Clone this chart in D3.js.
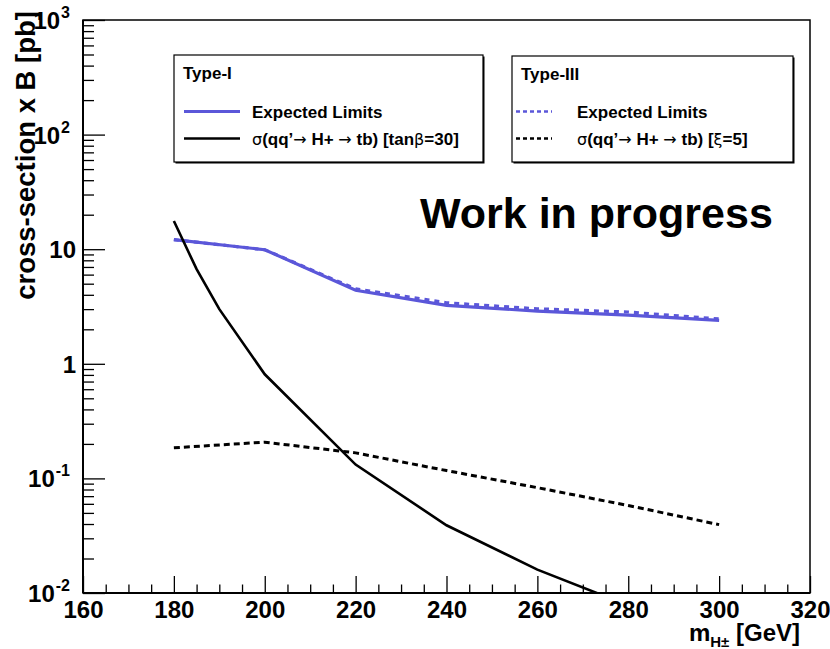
<!DOCTYPE html>
<html>
<head>
<meta charset="utf-8">
<script src="https://cdn.jsdelivr.net/npm/d3@7"></script>
<style>
  html, body { margin: 0; padding: 0; background: #fff; }
  svg { display: block; }
  text { font-family: "Liberation Sans", Arial, Helvetica, sans-serif; font-weight: bold; fill: #000; }
</style>
</head>
<body>
<svg id="chart" width="830" height="649"></svg>
<script>
// Charged Higgs mass points (GeV)
const massPoints = [180, 200, 220, 240, 260, 280, 300];
// Expected cross-section limits (pb)
const limitsTypeI   = [12.1, 9.9, 4.38, 3.24, 2.88, 2.66, 2.39];
const limitsTypeIII = [12.1, 9.9, 4.50, 3.41, 3.02, 2.83, 2.46];
// Theory cross-section, Type-I, tanβ = 30
const xsecMassTanb = [180, 185, 190, 200, 220, 240, 260, 280, 300];
const xsecTanb30   = [17.6, 6.7, 3.0, 0.81, 0.132, 0.039, 0.016, 0.0078, 0.0035];
// Theory cross-section, Type-III, ξ = 5
const xsecXi5 = [0.185, 0.207, 0.167, 0.117, 0.083, 0.058, 0.0395];

// Axis ticks
const xMajorTicks = [160, 180, 200, 220, 240, 260, 280, 300, 320];
const yDecades = [0.01, 0.1, 1, 10, 100, 1000];
const yTickLabels = [["10", "-2"], ["10", "-1"], ["1", null], ["10", null], ["10", "2"], ["10", "3"]];

const frame = { left: 83, right: 810, top: 20, bottom: 593 };
const blue = "#5b57d9";

const svg = d3.select("#chart");
svg.append("rect").attr("width", 830).attr("height", 649).attr("fill", "#fff");

const x = d3.scaleLinear().domain([160, 320]).range([frame.left, frame.right]);
const y = d3.scaleLog().domain([0.01, 1000]).range([frame.bottom, frame.top]);

svg.append("clipPath").attr("id", "plotClip")
  .append("rect")
  .attr("x", frame.left).attr("y", frame.top)
  .attr("width", frame.right - frame.left).attr("height", frame.bottom - frame.top);

// Frame
svg.append("rect")
  .attr("x", frame.left).attr("y", frame.top)
  .attr("width", frame.right - frame.left).attr("height", frame.bottom - frame.top)
  .attr("fill", "none").attr("stroke", "#000").attr("stroke-width", 1.5);

// X axis ticks
const xMinor = d3.range(160, 320.1, 5).filter(v => v % 20 !== 0);
const xAxisMajor = d3.axisBottom(x).tickValues(xMajorTicks).tickSize(-17).tickPadding(7).tickFormat(d3.format("d"));
const xAxisMinor = d3.axisBottom(x).tickValues(xMinor).tickSize(-8.5).tickFormat("");
const gxMinor = svg.append("g").attr("transform", `translate(0,${frame.bottom})`).call(xAxisMinor);
const gx = svg.append("g").attr("transform", `translate(0,${frame.bottom})`).call(xAxisMajor);
[gx, gxMinor].forEach(g => {
  g.select(".domain").remove();
  g.selectAll(".tick line").attr("stroke", "#000").attr("stroke-width", 1.3);
});
gx.selectAll(".tick text")
  .attr("font-size", 24).attr("fill", "#000")
  .attr("font-family", "'Liberation Sans', Arial, sans-serif").attr("font-weight", "bold")
  .attr("dy", "0.74em");

// Y axis ticks
const yMinor = [];
yDecades.slice(0, -1).forEach(d => { for (let k = 2; k <= 9; k++) yMinor.push(d * k); });
const yAxisMajor = d3.axisLeft(y).tickValues(yDecades).tickSize(-22).tickFormat("");
const yAxisMinor = d3.axisLeft(y).tickValues(yMinor).tickSize(-11).tickFormat("");
const gyMinor = svg.append("g").attr("transform", `translate(${frame.left},0)`).call(yAxisMinor);
const gy = svg.append("g").attr("transform", `translate(${frame.left},0)`).call(yAxisMajor);
[gy, gyMinor].forEach(g => {
  g.select(".domain").remove();
  g.selectAll(".tick line").attr("stroke", "#000").attr("stroke-width", 1.3);
});

// Y tick labels with exponents
yDecades.forEach((d, i) => {
  const [base, exp] = yTickLabels[i];
  const t = svg.append("text")
    .attr("x", exp ? frame.left - 13 : frame.left - 7)
    .attr("y", y(d) + 9)
    .attr("text-anchor", "end")
    .attr("font-size", 24);
  t.append("tspan").text(base);
  if (exp) {
    t.append("tspan").attr("font-size", 16).attr("dy", -11).attr("dx", 1).text(exp);
  }
});

// Axis lines
svg.append("line")
  .attr("x1", frame.left).attr("x2", frame.right)
  .attr("y1", frame.bottom).attr("y2", frame.bottom)
  .attr("stroke", "#000").attr("stroke-width", 2.2);
svg.append("line")
  .attr("x1", frame.left).attr("x2", frame.left)
  .attr("y1", frame.top).attr("y2", frame.bottom)
  .attr("stroke", "#000").attr("stroke-width", 2);

// Axis titles
const xTitle = svg.append("text")
  .attr("x", 800).attr("y", 641)
  .attr("text-anchor", "end").attr("font-size", 24);
xTitle.append("tspan").text("m");
xTitle.append("tspan").attr("font-size", 15).attr("dy", 6).text("H±");
xTitle.append("tspan").attr("dy", -6).text(" [GeV]");

svg.append("text")
  .attr("transform", "translate(35,11) rotate(-90)")
  .attr("text-anchor", "end").attr("font-size", 27.5)
  .text("cross-section x B [pb]");

// Curves
const plot = svg.append("g").attr("clip-path", "url(#plotClip)");
const line = d3.line().x(d => x(d[0])).y(d => y(d[1]));

plot.append("path")
  .datum(d3.zip(massPoints, limitsTypeI))
  .attr("d", line).attr("fill", "none")
  .attr("stroke", blue).attr("stroke-width", 3.2);
plot.append("path")
  .datum(d3.zip(massPoints, limitsTypeIII))
  .attr("d", line).attr("fill", "none")
  .attr("stroke", blue).attr("stroke-width", 3.2)
  .attr("stroke-dasharray", "5,5");
plot.append("path")
  .datum(d3.zip(xsecMassTanb, xsecTanb30))
  .attr("d", line).attr("fill", "none")
  .attr("stroke", "#000").attr("stroke-width", 2.6);
plot.append("path")
  .datum(d3.zip(massPoints, xsecXi5))
  .attr("d", line).attr("fill", "none")
  .attr("stroke", "#000").attr("stroke-width", 3)
  .attr("stroke-dasharray", "6,4");

// Legends
function legend(box, title, entries) {
  const g = svg.append("g");
  // shadow
  g.append("rect")
    .attr("x", box.x + 1.5).attr("y", box.y + 1.5)
    .attr("width", box.w).attr("height", box.h)
    .attr("fill", "#000");
  g.append("rect")
    .attr("x", box.x).attr("y", box.y)
    .attr("width", box.w).attr("height", box.h)
    .attr("fill", "#fff").attr("stroke", "#000").attr("stroke-width", 1.2);
  g.append("text").attr("x", box.x + 9).attr("y", box.y + 24)
    .attr("font-size", 17).text(title);
  entries.forEach(e => {
    g.append("line")
      .attr("x1", box.x + box.lx0).attr("x2", box.x + box.lx1)
      .attr("y1", box.y + e.dy).attr("y2", box.y + e.dy)
      .attr("stroke", e.color).attr("stroke-width", e.width)
      .attr("stroke-dasharray", e.dash || null);
    const t = g.append("text").attr("x", box.x + box.tx).attr("y", box.y + e.dy + 6.5)
      .attr("font-size", 17);
    e.parts.forEach(p => {
      const s = t.append("tspan").text(p.t);
      if (p.sym) s.attr("font-weight", "normal").attr("font-family", "'DejaVu Sans', sans-serif").attr("font-size", 16);
    });
  });
}

legend({ x: 174, y: 55, w: 309, h: 107, lx0: 10, lx1: 66, tx: 78 }, "Type-I", [
  { dy: 56.5, color: blue, width: 3.2, parts: [{ t: "Expected Limits" }] },
  { dy: 83.5, color: "#000", width: 2.6, parts: [
    { t: "σ", sym: true }, { t: "(qq’" }, { t: "→", sym: true }, { t: " H+ " },
    { t: "→", sym: true }, { t: " tb) [tan" }, { t: "β", sym: true }, { t: "=30]" }] }
]);
legend({ x: 512, y: 56, w: 281, h: 106, lx0: 4, lx1: 40, tx: 65 }, "Type-III", [
  { dy: 55.5, color: blue, width: 2.6, dash: "4,3", parts: [{ t: "Expected Limits" }] },
  { dy: 82.5, color: "#000", width: 2.6, dash: "4,3", parts: [
    { t: "σ", sym: true }, { t: "(qq’" }, { t: "→", sym: true }, { t: " H+ " },
    { t: "→", sym: true }, { t: " tb) [" }, { t: "ξ", sym: true }, { t: "=5]" }] }
]);

// Annotation
svg.append("text")
  .attr("x", 420).attr("y", 228)
  .attr("font-size", 43)
  .text("Work in progress");
</script>
</body>
</html>
